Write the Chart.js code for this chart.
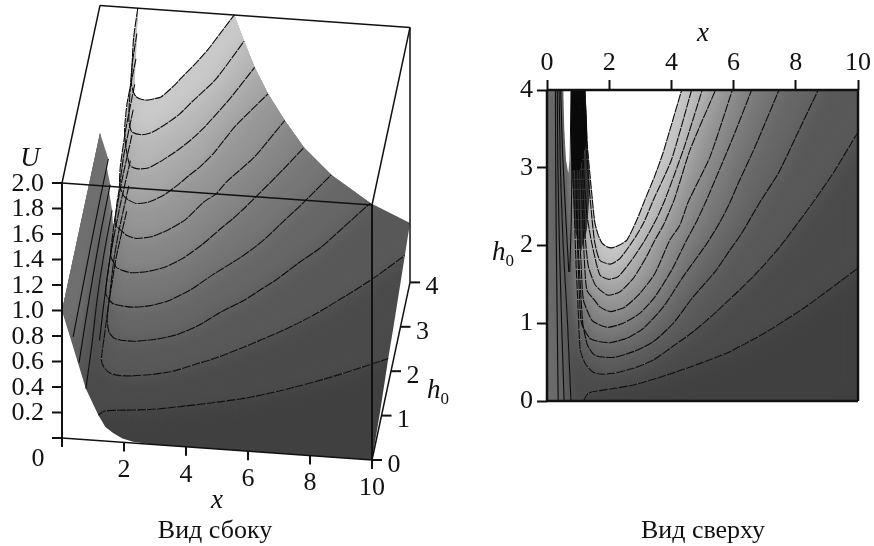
<!DOCTYPE html>
<html>
<head>
<meta charset="utf-8">
<title>U(x, h0)</title>
<script src="https://cdn.jsdelivr.net/npm/chart.js@4"></script>
<style>
  body { margin: 0; background: #fff; }
  #page { position: relative; width: 874px; height: 546px; overflow: hidden; }
  canvas { position: absolute; left: 0; top: 0; }
  .lbl { position: absolute; font: 26px "Liberation Serif", serif; color: #111; transform: translate(-50%, -50%); white-space: nowrap; }
  .lbl i { font-size: 27px; }
  .lbl sub { font-size: 17px; line-height: 0; }
</style>
</head>
<body>
<div id="page">
  <canvas id="side" width="874" height="546"></canvas>
  <canvas id="top" width="874" height="546"></canvas>
  <div class="lbl" style="left:30px;top:157px"><i>U</i></div>
  <div class="lbl" style="left:217px;top:499px"><i>x</i></div>
  <div class="lbl" style="left:438px;top:389px"><i>h</i><sub>0</sub></div>
  <div class="lbl" style="left:215px;top:530px">Вид сбоку</div>
  <div class="lbl" style="left:703px;top:32px"><i>x</i></div>
  <div class="lbl" style="left:503px;top:251px"><i>h</i><sub>0</sub></div>
  <div class="lbl" style="left:703px;top:530px">Вид сверху</div>
</div>
<script>
/* tick labels */
const xTicks = [0, 2, 4, 6, 8, 10];
const hTicks = [0, 1, 2, 3, 4];
const uTicks = [0, 0.2, 0.4, 0.6, 0.8, 1.0, 1.2, 1.4, 1.6, 1.8, 2.0];

/* contour lines U = const of the main surface, read from the top view */
const u02X = [1.17, 1.33, 1.7, 2.78, 3.85, 4.92, 5.88, 7.06, 8.24, 9.2, 10];
const u02H = [0, 0.10, 0.133, 0.206, 0.334, 0.484, 0.635, 0.89, 1.19, 1.47, 1.71];
const u04X = [0.86, 0.84, 0.88, 0.93, 1.0, 1.07, 1.22, 1.45, 1.7, 2.13, 2.78, 3.42, 4.06, 4.7, 5.45, 6.63, 7.49, 8.56, 9.2, 10];
const u04H = [4, 3, 2.4, 1.8, 1.2, 0.66, 0.49, 0.38, 0.347, 0.356, 0.42, 0.527, 0.707, 0.89, 1.15, 1.6, 1.985, 2.56, 2.93, 3.46];
const u06X = [0.93, 0.92, 0.95, 1.0, 1.07, 1.15, 1.3, 1.5, 1.7, 2.13, 2.78, 3.42, 4.06, 4.7, 5.4, 5.88, 6.26, 6.85, 7.44, 8.03, 8.72];
const u06H = [4, 3, 2.4, 2, 1.5, 1, 0.72, 0.6, 0.57, 0.56, 0.635, 0.763, 1.0, 1.34, 1.66, 1.94, 2.157, 2.56, 2.93, 3.42, 4];
const u08X = [0.98, 0.96, 0.98, 1.04, 1.11, 1.38, 1.7, 2.03, 2.56, 3.1, 3.74, 4.38, 5.13, 5.56, 5.88, 6.15, 6.69, 7.46];
const u08H = [4, 3, 2.03, 1.385, 1, 0.806, 0.763, 0.75, 0.806, 0.935, 1.21, 1.6, 2.02, 2.3, 2.55, 2.8, 3.27, 4];
const u10X = [1.03, 1.02, 1.06, 1.09, 1.17, 1.44, 1.7, 1.97, 2.45, 2.99, 3.47, 4.01, 4.49, 4.81, 5.13, 5.99, 6.58];
const u10H = [4, 3, 2.03, 1.81, 1.3, 1.04, 0.977, 0.947, 1.0, 1.13, 1.34, 1.685, 2.07, 2.31, 2.585, 3.4, 4];
const u12X = [1.07, 1.08, 1.17, 1.19, 1.28, 1.54, 1.7, 2.03, 2.51, 2.99, 3.47, 3.95, 4.27, 4.54, 5.24, 5.96];
const u12H = [4, 3, 2.16, 1.9, 1.43, 1.29, 1.21, 1.15, 1.21, 1.385, 1.64, 2.07, 2.26, 2.56, 3.14, 4];
const u14X = [1.12, 1.14, 1.22, 1.33, 1.54, 1.7, 1.97, 2.35, 2.78, 3.2, 3.47, 3.74, 4.1, 4.6, 5.42];
const u14H = [4, 3, 2.16, 1.73, 1.5, 1.43, 1.36, 1.406, 1.58, 1.856, 2.07, 2.26, 2.6, 3.23, 4];
const u16X = [1.16, 1.18, 1.28, 1.44, 1.7, 1.97, 2.29, 2.72, 3.15, 3.53, 3.79, 4.4, 4.99];
const u16H = [4, 3, 2.41, 2.03, 1.62, 1.565, 1.6, 1.81, 2.07, 2.35, 2.585, 3.25, 4];
const u18X = [1.19, 1.25, 1.44, 1.54, 1.7, 2.03, 2.35, 2.78, 3.1, 3.42, 4.0, 4.65];
const u18H = [4, 3.3, 2.37, 2.03, 1.81, 1.76, 1.835, 2.07, 2.285, 2.585, 3.1, 4];
const u20X = [1.22, 1.29, 1.48, 1.54, 1.65, 1.77, 1.92, 2.09, 2.3, 2.57, 2.89, 3.15, 3.45, 3.73, 4.02, 4.33];
const u20H = [4, 3.32, 2.5, 2.29, 2.13, 2.03, 1.985, 1.97, 2.0, 2.07, 2.33, 2.59, 2.88, 3.19, 3.58, 4];

/* contours left of the valley */
const left04X = [0.77, 0.66, 0.52, 0.43, 0.39];
const left06X = [0.55, 0.47, 0.40, 0.35, 0.33];
const left08X = [0.36, 0.33, 0.30, 0.28, 0.27];
const leftH = [0, 1, 2, 3, 4];

/* the U = 0.2 spike in the valley */
const spikeLeftX = [0.44, 0.50, 0.60, 0.70];
const spikeLeftH = [4, 3.2, 2.4, 1.66];
const spikeRightX = [0.73, 0.78, 0.80, 0.84];
const spikeRightH = [1.66, 2.3, 3, 4];

/* where U falls under 0 (white gap at the top of the valley) */
const holeX = [0.525, 0.557, 0.61, 0.686, 0.72, 0.74, 0.76];
const holeH = [4, 3.49, 3.1, 2.93, 3.1, 3.49, 4];

/* rim of the surface: h0 = 0 edge, x = 10 edge, h0 = 4 edge */
const edgeX = [1.4, 1.65, 1.95, 2.29, 2.94, 10];
const edgeU = [0.11, 0.067, 0.03, 0.01, 0, 0];
const rimX = [10, 10, 10, 10, 10, 8.72, 7.46, 6.58, 5.96, 5.42, 4.99, 4.65, 4.33];
const rimH = [0.84, 1.71, 2.2, 3.45, 4, 4, 4, 4, 4, 4, 4, 4, 4];
const rimU = [0.08, 0.2, 0.25, 0.4, 0.466, 0.6, 0.8, 1.0, 1.2, 1.4, 1.6, 1.8, 2.0];

/* black bundle of contours on the wall in the top view, and its dark lower part */
const wallX = [0.76, 1.23, 1.28, 1.30, 1.06, 0.79, 0.74];
const wallH = [4, 4, 3.66, 3.36, 2.97, 2.97, 3.49];
const wallLowX = [0.79, 1.06, 1.30, 1.38, 1.28, 1.08, 0.90];
const wallLowH = [2.97, 2.97, 3.36, 2.7, 2.2, 1.9, 2.2];

const levels = [0.4, 0.6, 0.8, 1.0, 1.2, 1.4, 1.6, 1.8];
const levelX = [u04X, u06X, u08X, u10X, u12X, u14X, u16X, u18X];
const levelH = [u04H, u06H, u08H, u10H, u12H, u14H, u16H, u18H];
const levelShade = [0x58, 0x66, 0x76, 0x86, 0x96, 0xa8, 0xb8, 0xca];
const floorShade = 0x40;
const valleyShade = 0x4a;

const gray = v => `rgb(${v},${v},${v})`;
const run = (xs, hs, u) => xs.map((x, i) => [x, hs[i], Array.isArray(u) ? u[i] : u]);
const rim = run(rimX, rimH, rimU);

function surfaceSets(project, blur, fullSpike, extra) {
  const poly = (tri, shade, soft) => ({
    data: tri.map(t => project(t[0], t[1], t[2])),
    showLine: true, pointRadius: 0, borderWidth: 0, tension: 0,
    fill: 'shape', backgroundColor: gray(shade), soft: soft ? blur : null
  });
  const line = (tri, dash) => ({
    data: tri.map(t => project(t[0], t[1], t[2])),
    showLine: true, pointRadius: 0, tension: 0.2, fill: false,
    borderColor: '#0c0c0c', borderWidth: 1.1, borderDash: dash
  });

  const u02 = run(u02X, u02H, 0.2);
  const u20 = run(u20X, u20H, 2);
  const u04 = run(u04X, u04H, 0.4);

  const floor = [[u02X[0], 0, 0.2], ...run(edgeX, edgeX.map(() => 0), edgeU),
    ...rim.filter(r => r[2] <= 0.2), ...u02.slice().reverse()];
  const valley = [...run(left04X, leftH, 0.4), [spikeLeftX[0], 4, 0.2], ...run(holeX, holeH, 0),
    ...u04, ...rim.filter(r => r[2] > 0.2 && r[2] < 0.4).reverse(), ...u02.slice().reverse()];
  const strips = [[left04X, 0], [left06X, 1], [left08X, 2]].map(([xs, i]) =>
    ({ tri: [...run(xs, leftH, levels[i]), [0, 4, 1], [0, 0, 1]], shade: levelShade[i] }));
  const mains = levels.map((u, i) =>
    ({ tri: [...run(levelX[i], levelH[i], u), ...rim.filter(r => r[2] > u), ...u20.slice().reverse()], shade: levelShade[i] }));
  // blurred copies carry on past the rim along the contour, so their soft edge does not dim it
  const reach = levels.map((u, i) => {
    const xs = levelX[i], hs = levelH[i], n = xs.length - 1;
    const far = [xs[n] + (xs[n] - xs[n - 1]) * 5, hs[n] + (hs[n] - hs[n - 1]) * 5, u];
    return { tri: [...run(xs, hs, u), far, [far[0], 14, u], [xs[0], 14, u]], shade: levelShade[i] };
  });

  const pass = (soft, top) => [
    poly(floor, floorShade, soft),
    ...strips.map(s => poly(s.tri, s.shade, soft)),
    poly(valley, valleyShade, soft),
    ...top.map(s => poly(s.tri, s.shade, soft))
  ];

  const broken = [9, 1];
  const lines = [u02, u20, ...levels.map((u, i) => run(levelX[i], levelH[i], u))].map(t => line(t, broken));
  const solid = [run(left04X, leftH, 0.4), run(left06X, leftH, 0.6), run(left08X, leftH, 0.8),
    run(spikeLeftX, spikeLeftH, 0.2)];
  if (fullSpike) solid.push(run(spikeRightX, spikeRightH, 0.2));

  return [...pass(false, mains), ...pass(true, reach), ...extra(poly), ...lines, ...solid.map(t => line(t, []))];
}

/* bands are painted flat, then again blurred on top of themselves to get the smooth shading */
const softLayer = {
  id: 'softLayer',
  afterDatasetDraw(chart, args) {
    const next = chart.data.datasets[args.index + 1];
    chart.ctx.filter = next && next.soft ? `blur(${next.soft}px)` : 'none';
    chart.ctx.globalCompositeOperation = next && next.soft ? 'source-atop' : 'source-over';
  }
};

const ordered = sets => sets.map((s, i) => Object.assign(s, { order: -i }));
const baseOptions = {
  responsive: false, animation: false, events: [],
  plugins: { legend: { display: false }, tooltip: { enabled: false } }
};

/* ---- side view: oblique projection of (x, h0, U) on the page ---- */
const side = (x, h, u) => ({ x: 62 + 31 * x + 9.5 * h, y: 438 + 2.2 * x - 44.4 * h - 127.5 * u });
const seg = (a, b, width) => ({
  data: [a, b], showLine: true, pointRadius: 0, fill: false,
  borderColor: '#111', borderWidth: width
});
const edge3d = (a, b, width) => seg(side(...a), side(...b), width);
const shift = (p, dx, dy) => ({ x: p.x + dx, y: p.y + dy });

const boxSets = [
  edge3d([0, 0, 0], [0, 0, 2], 2),
  edge3d([0, 0, 2], [10, 0, 2], 1.5),
  edge3d([10, 0, 2], [10, 0, 0], 2),
  edge3d([10, 0, 0], [0, 0, 0], 1.5),
  edge3d([10, 0, 0], [10, 4, 0], 1.5),
  edge3d([10, 4, 0], [10, 4, 2], 1.5),
  edge3d([10, 4, 2], [0, 4, 2], 1.5),
  edge3d([0, 4, 2], [0, 0, 2], 1.5),
  edge3d([10, 4, 2], [10, 0, 2], 1.5),
  ...uTicks.map(u => seg(shift(side(0, 0, u), -10, 0), side(0, 0, u), 2)),
  ...xTicks.map(x => seg(side(x, 0, 0), shift(side(x, 0, 0), 0, 9), 2)),
  ...hTicks.map(h => seg(side(10, h, 0), shift(side(10, h, 0), 10, 0), 2))
];

const sideLabels = {
  id: 'sideLabels',
  afterDraw(chart) {
    const { ctx, scales } = chart;
    const put = (p, text, align) => {
      ctx.textAlign = align;
      ctx.fillText(text, scales.x.getPixelForValue(p.x), scales.y.getPixelForValue(p.y));
    };
    ctx.save();
    ctx.filter = 'none';
    ctx.globalCompositeOperation = 'source-over';
    ctx.font = '26px "Liberation Serif", serif';
    ctx.fillStyle = '#111';
    ctx.textBaseline = 'middle';
    uTicks.forEach(u => { if (u > 0) put(shift(side(0, 0, u), -18, 1), u.toFixed(1), 'right'); });
    xTicks.forEach(x => {
      if (x === 0) put(shift(side(0, 0, 0), -24, 21), '0', 'center');
      else put(shift(side(x, 0, 0), 0, 28), String(x), 'center');
    });
    hTicks.forEach(h => put(shift(side(10, h, 0), 22, 5), String(h), 'center'));
    ctx.restore();
  }
};

new Chart(document.getElementById('side'), {
  type: 'scatter',
  data: { datasets: ordered([...surfaceSets(side, 9, false, () => []), ...boxSets]) },
  options: {
    ...baseOptions,
    layout: { padding: 0 },
    scales: {
      x: { type: 'linear', min: 0, max: 874, display: false },
      y: { type: 'linear', min: 0, max: 546, reverse: true, display: false }
    }
  },
  plugins: [softLayer, sideLabels]
});

/* ---- top view: ordinary x / h0 axes ---- */
const flat = (x, h) => ({ x, y: h });
const frame = (a, b) => Object.assign(seg(flat(...a), flat(...b), 2.5), { clip: false });
const frameSets = [frame([0, 4], [10, 4]), frame([10, 4], [10, 0]), frame([10, 0], [0, 0]), frame([0, 0], [0, 4])];
const axisLook = {
  grid: { drawOnChartArea: false, tickLength: 10, tickWidth: 2, color: '#111', z: 1 },
  border: { display: false }
};
const tickFont = { family: '"Liberation Serif", serif', size: 26 };

new Chart(document.getElementById('top'), {
  type: 'scatter',
  data: {
    datasets: ordered([
      ...surfaceSets(flat, 10, true, poly => [
        poly(run(wallLowX, wallLowH, 0), 0x34, false),
        poly(run(wallX, wallH, 0), 0x08, false)
      ]),
      ...frameSets
    ])
  },
  options: {
    ...baseOptions,
    layout: { padding: { right: 16, bottom: 145 } },
    scales: {
      x: {
        type: 'linear', position: 'top', min: 0, max: 10, ...axisLook,
        afterBuildTicks: s => { s.ticks = xTicks.map(value => ({ value })); },
        afterFit: s => { s.height = 90; },
        ticks: { color: '#111', font: tickFont, padding: 1, maxRotation: 0, z: 1 }
      },
      y: {
        type: 'linear', min: 0, max: 4, ...axisLook,
        afterBuildTicks: s => { s.ticks = hTicks.map(value => ({ value })); },
        afterFit: s => { s.width = 547; },
        ticks: { color: '#111', font: tickFont, padding: 4, z: 1 }
      }
    }
  },
  plugins: [softLayer]
});
</script>
</body>
</html>
